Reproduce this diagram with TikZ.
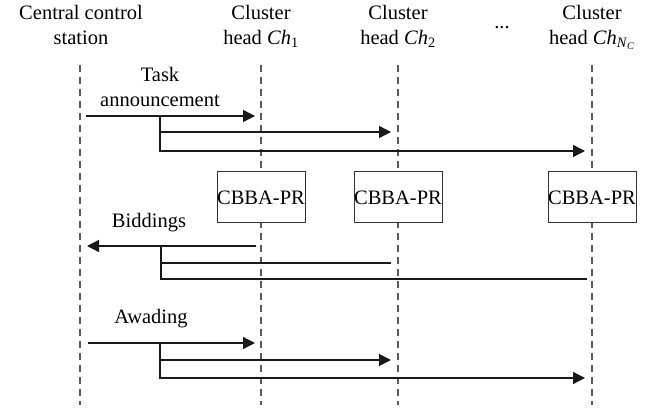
\documentclass[tikz,border=0pt]{standalone}
\usepackage{fontspec}
\setmainfont{Liberation Serif}
\usetikzlibrary{arrows.meta}

\begin{document}
\begin{tikzpicture}[x=1pt,y=-1pt,>={Triangle[length=12pt,width=12pt]},
                    font=\fontsize{20.5}{25}\selectfont]
  \tikzstyle{head}=[align=center,anchor=base,inner sep=0pt]
  \tikzstyle{msgtext}=[align=center,anchor=base,inner sep=0pt]
  \tikzstyle{lifeline}=[draw=black!65,line width=1.5pt,dash pattern=on 7pt off 5pt]
  \tikzstyle{msg}=[draw=black!90,line width=1.3pt]
  \tikzstyle{proc}=[rectangle,draw=black!80,fill=white,line width=1pt,
                    minimum width=88pt,minimum height=51pt,inner sep=0pt]

  \useasboundingbox (0,0) rectangle (661,411);

  % heads
  \node[head] (ccs) at (81,44.5)  {Central control\\station};
  \node[head] (ch1) at (261,44.5) {Cluster\\head \textit{Ch}\textsubscript{1}};
  \node[head] (ch2) at (398,44.5) {Cluster\\head \textit{Ch}\textsubscript{2}};
  \node[head] (dots) at (502,29) {...};
  \node[head] (chn) at (592,44.5) {Cluster\\head \textit{Ch}\textsubscript{\textit{N}\textsubscript{\textit{C}}}};

  % lifelines
  \foreach \n/\x in {ccs/80,ch1/261,ch2/398,chn/592}{
    \coordinate (\n top) at (\x,65);
    \coordinate (\n bot) at (\x,405);
    \draw[lifeline] (\n top) -- (\n bot);
  }

  % task announcement
  \node[msgtext] (task) at (160,106.5) {Task\\announcement};
  \coordinate (ta s) at (86,116);
  \coordinate (ta b) at (160,116);
  \foreach \n/\x/\y in {1/255/116,2/391/132,3/585/151}
    \coordinate (ta\n) at (\x,\y);
  \draw[msg,->] (ta s) -- (ta1);
  \draw[msg,->] (ta b) |- (ta2);
  \draw[msg,->] (ta b) |- (ta3);

  % local planning
  \node[proc] (pr1) at (261,197.5) {CBBA-PR};
  \node[proc] (pr2) at (398,197.5) {CBBA-PR};
  \node[proc] (prn) at (592,197.5) {CBBA-PR};

  % biddings
  \node[msgtext] (bid) at (149,228) {Biddings};
  \coordinate (bd e) at (87,246);
  \coordinate (bd b) at (161,246);
  \foreach \n/\x/\y in {1/256/246,2/391/263,3/587/279}
    \coordinate (bd\n) at (\x,\y);
  \draw[msg,->] (bd1) -- (bd e);
  \draw[msg] (bd2) -| (bd b);
  \draw[msg] (bd3) -| (bd b);

  % awarding
  \node[msgtext] (awd) at (151,324) {Awading};
  \coordinate (aw s) at (88,343);
  \coordinate (aw b) at (160,343);
  \foreach \n/\x/\y in {1/255/343,2/391/360,3/585/378}
    \coordinate (aw\n) at (\x,\y);
  \draw[msg,->] (aw s) -- (aw1);
  \draw[msg,->] (aw b) |- (aw2);
  \draw[msg,->] (aw b) |- (aw3);

\end{tikzpicture}
\end{document}
